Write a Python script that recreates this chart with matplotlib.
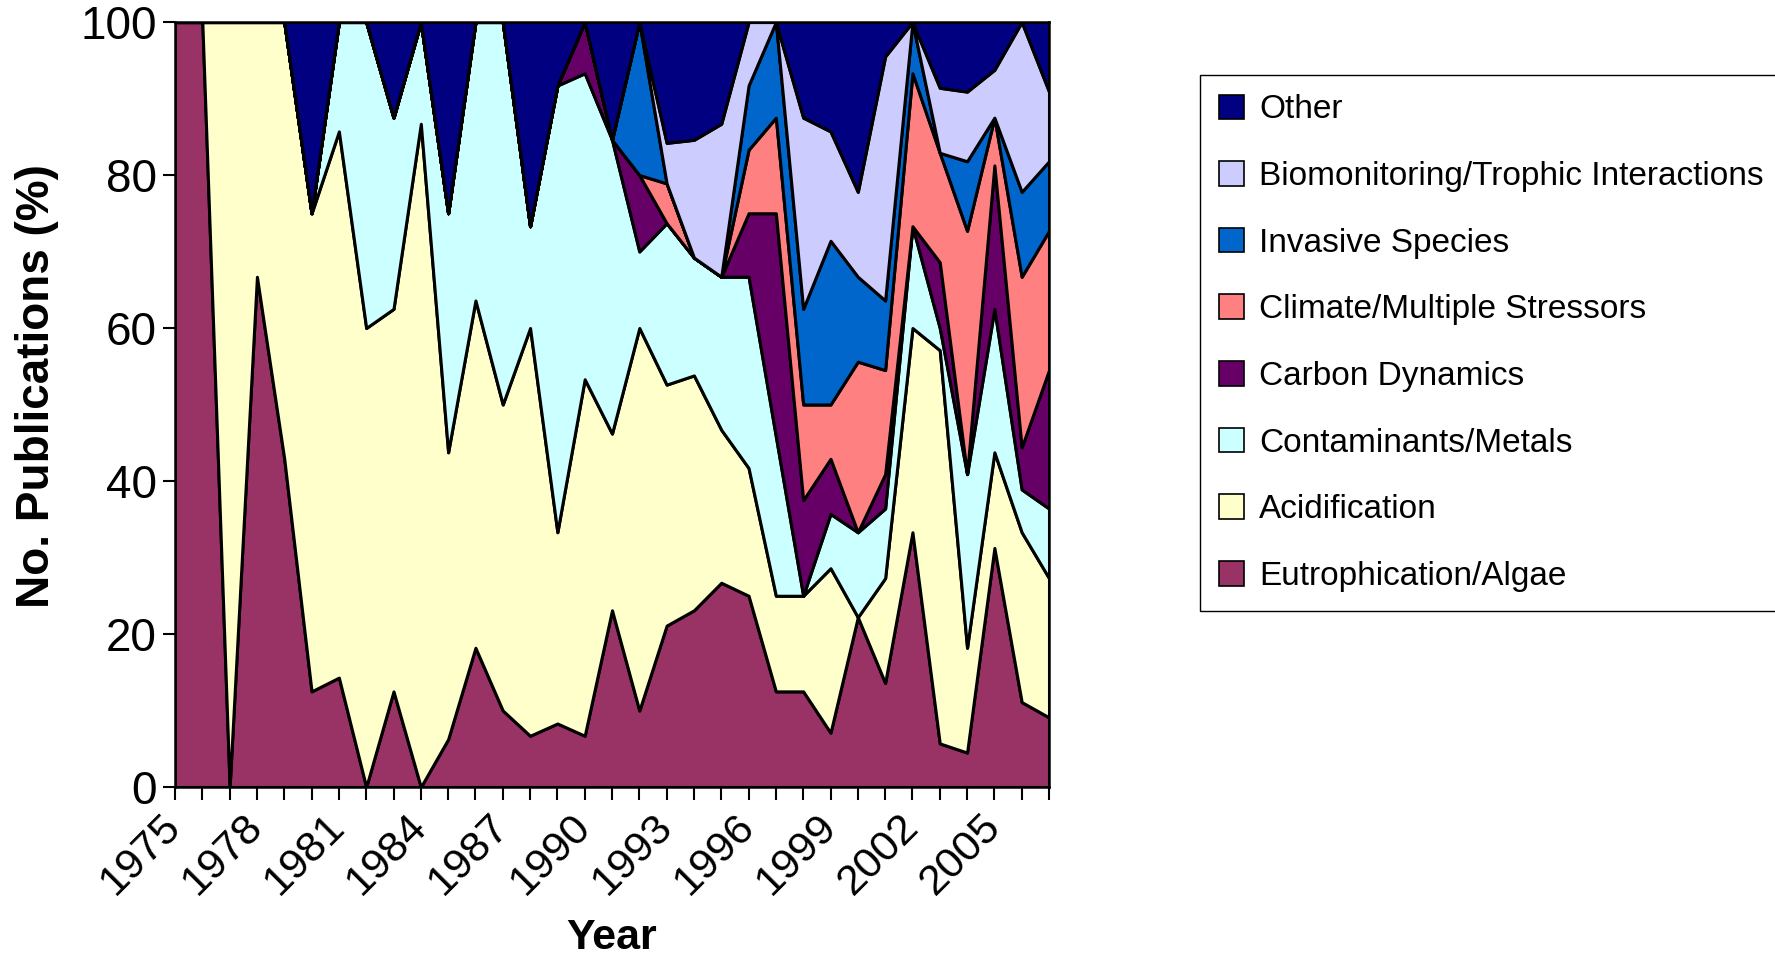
import matplotlib
matplotlib.use("Agg")
import matplotlib.pyplot as plt
from matplotlib.patches import Patch

plt.rcParams['font.family'] = ['Liberation Sans', 'DejaVu Sans']

years = list(range(1975, 2008))

# percentage of publications per theme and year
eutrophication = [100, 100, 0, 66.7, 42.9, 12.5, 14.3, 0, 12.5, 0, 6.25, 18.2, 10, 6.7, 8.3, 6.7,
                  23.1, 10, 21.1, 23.1, 26.7, 25, 12.5, 12.5, 7.1, 22.2, 13.6, 33.3, 5.7, 4.5, 31.25, 11.1, 9.1]
acidification = [0, 0, 100, 33.3, 57.1, 62.5, 71.4, 60, 50, 86.7, 37.5, 45.4, 40, 53.3, 25, 46.6,
                 23.1, 50, 31.5, 30.7, 20, 16.7, 12.5, 12.5, 21.5, 0, 13.7, 26.7, 51.4, 13.7, 12.5, 22.2, 18.2]
contaminants = [0, 0, 0, 0, 0, 0, 14.3, 40, 25, 13.3, 31.25, 36.4, 50, 13.3, 58.4, 40,
                38.4, 10, 21.1, 15.4, 20, 25, 20.8, 0, 7.1, 11.1, 9.1, 13.3, 2.9, 22.7, 18.75, 5.6, 9.1]
carbon = [0, 0, 0, 0, 0, 0, 0, 0, 0, 0, 0, 0, 0, 0, 0, 6.7,
          0, 10, 0, 0, 0, 8.3, 29.2, 12.5, 7.2, 0, 4.5, 0, 8.6, 0, 18.75, 5.5, 18.1]
climate = [0, 0, 0, 0, 0, 0, 0, 0, 0, 0, 0, 0, 0, 0, 0, 0,
           0, 0, 5.2, 0, 0, 8.3, 12.5, 12.5, 7.1, 22.3, 13.6, 20, 14.3, 31.8, 6.25, 22.3, 18.2]
invasive = [0, 0, 0, 0, 0, 0, 0, 0, 0, 0, 0, 0, 0, 0, 0, 0,
            0, 20, 0, 0, 0, 8.4, 12.5, 12.5, 21.4, 11.1, 9.1, 6.7, 0, 9.1, 0, 11.1, 9.1]
biomonitoring = [0, 0, 0, 0, 0, 0, 0, 0, 0, 0, 0, 0, 0, 0, 0, 0,
                 0, 0, 5.3, 15.4, 20, 8.3, 0, 25, 14.3, 11.1, 31.9, 0, 8.5, 9.1, 6.25, 22.2, 9.1]
other = [0, 0, 0, 0, 0, 25, 0, 0, 12.5, 0, 25, 0, 0, 26.7, 8.3, 0,
         15.4, 0, 15.8, 15.4, 13.3, 0, 0, 12.5, 14.3, 22.2, 4.5, 0, 8.6, 9.1, 6.25, 0, 9.1]

labels = ["Eutrophication/Algae", "Acidification", "Contaminants/Metals", "Carbon Dynamics",
          "Climate/Multiple Stressors", "Invasive Species", "Biomonitoring/Trophic Interactions", "Other"]
colors = ["#993366", "#FFFFCC", "#CCFFFF", "#660066", "#FF8080", "#0066CC", "#CCCCFF", "#000080"]

fig = plt.figure(figsize=(17.75, 9.61), dpi=100)
ax = fig.add_axes([175 / 1775, 1 - 787 / 961, (1049 - 175) / 1775, (787 - 22) / 961])

ax.stackplot(years, eutrophication, acidification, contaminants, carbon, climate,
             invasive, biomonitoring, other, colors=colors, edgecolor="black", linewidth=2.2)

ax.set_xlim(1975, 2007)
ax.set_ylim(0, 100)
ax.set_yticks([0, 20, 40, 60, 80, 100])
ax.set_xticks(years)
ax.set_xticklabels([str(y) if (y - 1975) % 3 == 0 else "" for y in years],
                   rotation=45, ha="right", va="center", rotation_mode="anchor")
ax.tick_params(axis="both", direction="out", length=9, width=1.5, labelsize=33)
ax.tick_params(axis="x", pad=15, labelsize=31)
ax.tick_params(axis="y", pad=4)
for s in ax.spines.values():
    s.set_linewidth(1.8)
    s.set_color("black")

ax.set_ylabel("No. Publications (%)", fontsize=33, fontweight="bold")
ax.yaxis.set_label_coords(-0.133, 0.524)
ax.set_xlabel("Year", fontsize=31, fontweight="bold")
ax.xaxis.set_label_coords(0.5, -0.171)

handles = [Patch(facecolor=c, edgecolor="black", linewidth=1.2) for c in colors]
fig.legend(handles[::-1], labels[::-1], loc="upper left",
           bbox_to_anchor=(1200 / 1775, 1 - 75 / 961), bbox_transform=fig.transFigure,
           fontsize=24, frameon=True, fancybox=False, edgecolor="black", framealpha=1,
           handlelength=0.75, handleheight=0.75, handletextpad=0.45,
           labelspacing=1.07, borderpad=0.58, borderaxespad=0)

fig.savefig("out.png", dpi=100)
